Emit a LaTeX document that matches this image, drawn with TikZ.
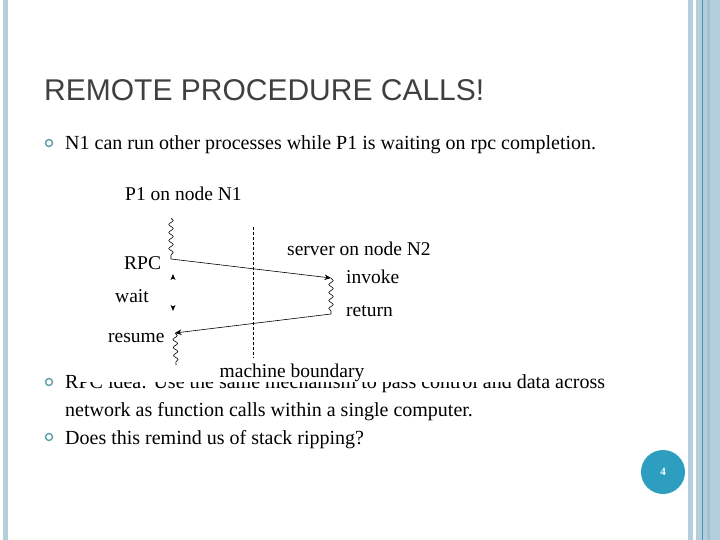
\documentclass[tikz,border=0pt]{standalone}
\usepackage{fontspec}
\setmainfont{Liberation Serif}
\newfontfamily\titlefont{Liberation Sans}
\usetikzlibrary{arrows.meta,positioning,decorations.pathmorphing}
\definecolor{StripBlue}{HTML}{B3CFDC}
\definecolor{StripShade}{HTML}{A2C2D2}
\definecolor{StripLine}{HTML}{4F8FAD}
\definecolor{BulletTeal}{HTML}{5B9DA8}
\definecolor{BadgeBlue}{HTML}{2E9EC0}
\definecolor{TitleInk}{HTML}{404040}
\tikzset{
  strip/.style={fill=StripBlue, draw=none},
  titletext/.style={
    anchor=base west,
    inner sep=0pt,
    font=\titlefont\fontsize{30bp}{36bp}\selectfont,
    text=TitleInk
  },
  bodytext/.style={anchor=base west, inner sep=0pt, font=\fontsize{20bp}{24bp}\selectfont},
  bulletmark/.style={circle, draw=BulletTeal, line width=1.4bp, minimum size=7bp, inner sep=0pt},
  pagebadge/.style={
    circle,
    fill=BadgeBlue,
    minimum size=44bp,
    inner sep=0pt,
    text=white,
    font=\bfseries\fontsize{11bp}{13bp}\selectfont
  },
  difflabel/.style={anchor=base west, inner sep=0pt, font=\fontsize{19.5bp}{23bp}\selectfont},
  msgarrow/.style={-{Stealth[length=6.5bp,width=5.5bp]}, line width=0.6bp},
  runline/.style={decorate, decoration={snake, amplitude=2.2bp, segment length=8bp}, line width=0.6bp},
  boundary/.style={dashed, dash pattern=on 3bp off 2bp, line width=0.6bp}
}

\begin{document}
\begin{tikzpicture}[x=1bp, y=-1bp]
  \useasboundingbox (0,0) rectangle (720,540);
  \fill[white] (0,0) rectangle (720,540);

  % slide frame
  \fill[strip] (3,0) rectangle (8,540);
  \fill[strip] (688.3,0) rectangle (692.7,540);
  \fill[strip] (696,0) rectangle (720,540);
  \fill[StripShade] (706.7,0) rectangle (710,540);
  \fill[StripLine] (702,0) rectangle (703,540);
  \node[pagebadge] (page) at (663,472) {4};

  \node[titletext] (title) at (44,101) {REMOTE PROCEDURE CALLS!};

  % bullets
  \node[bulletmark] (b1) at (49,143) {};
  \node[bodytext] (t1) at (65,150) {N1 can run other processes while P1 is waiting on rpc completion.};
  \node[bulletmark] (b2) at (49,382) {};
  \node[bodytext] (t2) at (65,388) {RPC idea: Use the same mechanism to pass control and data across};
  \node[bodytext] (t2b) at (65,416) {network as function calls within a single computer.};
  \node[bulletmark] (b3) at (49,437) {};
  \node[bodytext] (t3) at (65,444) {Does this remind us of stack ripping?};

  % figure, pasted over the text
  \fill[white] (78.5,172) rectangle (516,382);

  \coordinate (p1top) at (171,218);
  \coordinate (rpcpt) at (171,259);
  \coordinate (invpt) at (331,278);
  \coordinate (retpt) at (331,314);
  \coordinate (respt) at (175,333);
  \coordinate (p1end) at (176,365);
  \coordinate (bndtop) at (253,227);
  \coordinate (bndbot) at (253,358);
  \coordinate (upto) at (173,274);
  \coordinate (dnto) at (173,311);

  \node[difflabel] (p1lbl) at (125,201) {P1 on node N1};
  \node[difflabel] (srvlbl) at (287,256) {server on node N2};
  \node[difflabel] (rpclbl) at (124,270) {RPC};
  \node[difflabel] (invlbl) at (346,284) {invoke};
  \node[difflabel] (retlbl) at (346,316) {return};
  \node[difflabel] (waitlbl) at (115,302) {wait};
  \node[difflabel] (reslbl) at (108,342) {resume};
  \node[difflabel, anchor=base] (bndlbl) at (292,377) {machine boundary};

  \draw[boundary] (bndtop) -- (bndbot);
  \draw[runline] (p1top) -- (rpcpt);
  \draw[runline] (invpt) -- (retpt);
  \draw[runline] (respt) -- (p1end);
  \draw[msgarrow] (rpcpt) -- (invpt);
  \draw[msgarrow] (retpt) -- (respt);
  % wait marks
  \fill (upto) -- ++(-2.5,6) -- ++(2.5,-1.5) -- ++(2.5,1.5) -- cycle;
  \fill (dnto) -- ++(-2.5,-6) -- ++(2.5,1.5) -- ++(2.5,-1.5) -- cycle;
\end{tikzpicture}
\end{document}
